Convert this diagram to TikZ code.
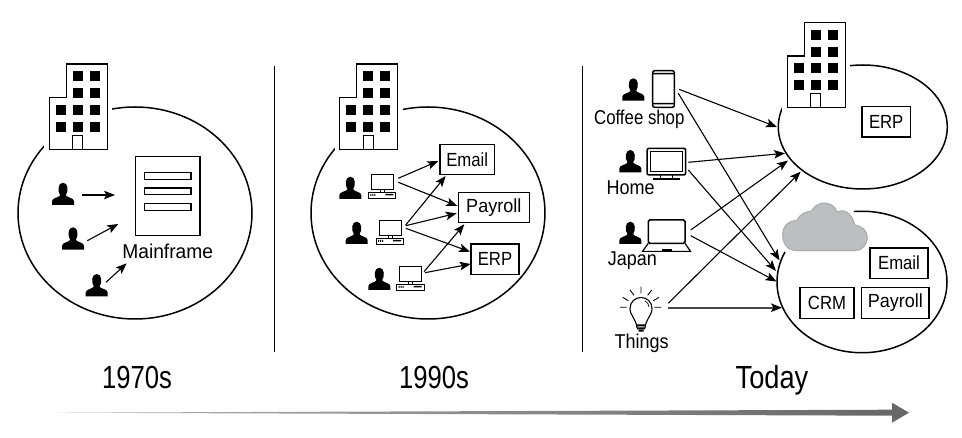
\documentclass[tikz,border=0pt]{standalone}
\usepackage{fontspec}
\setmainfont[FakeStretch=0.9]{Liberation Sans}
\newfontfamily\bigfont[FakeStretch=0.8]{Liberation Sans}
\newfontfamily\todayfont[FakeStretch=0.85]{Liberation Sans}
\newfontfamily\boxfont[FakeStretch=0.88]{Liberation Sans}
\newfontfamily\payfont[FakeStretch=0.95]{Liberation Sans}
\newfontfamily\cofffont[FakeStretch=0.84]{Liberation Sans}
\newfontfamily\mainfont[FakeStretch=0.96]{Liberation Sans}
\usetikzlibrary{arrows.meta,shapes.geometric}
\definecolor{cloudfill}{HTML}{BCBEC0}
\definecolor{cloudline}{HTML}{A7A9AC}
\definecolor{timedark}{HTML}{666666}
\tikzset{
  x=1pt,y=-1pt,
  oval/.style={draw=black,ellipse,line width=1.5pt,inner sep=0pt},
  appbox/.style={draw=black,line width=1.4pt,fill=white,inner sep=0pt,font=\boxfont\fontsize{19}{21}\selectfont},
  paybox/.style={appbox,font=\payfont\fontsize{19}{21}\selectfont},
  lab/.style={inner sep=0pt,font=\fontsize{20}{22}\selectfont},
  era/.style={inner sep=0pt,anchor=base,font=\bigfont\fontsize{32}{35}\selectfont},
  link/.style={line width=1.1pt,-{Stealth[length=11pt,width=8.5pt,inset=2.5pt]}},
  heavylink/.style={line width=1.7pt,draw=black!72,-{Stealth[length=11pt,width=8.5pt,inset=2.5pt,black]}},
  divider/.style={line width=1pt,black},
  building/.pic={
    \path[fill=white,draw=white,line width=10pt] (0,0) -- (0,-51.6) -- (17,-51.6) -- (17,-85.3) -- (58,-85.3) -- (58,0) -- cycle;
    \draw[fill=white,line width=1.5pt] (0,0) -- (0,-51.6) -- (17,-51.6) -- (17,-85.3) -- (58,-85.3) -- (58,0) -- cycle;
    \foreach \wx in {23.4,40.7}{\foreach \wy in {-78,-61}{\fill (\wx,\wy) rectangle ++(10,10);}}
    \foreach \wx in {6.7,23.4,40.7}{\foreach \wy in {-44.3,-27.6}{\fill (\wx,\wy) rectangle ++(10,10);}}
    \draw[line width=0.9pt] (23.4,0) -- (23.4,-14.3) -- (33.4,-14.3) -- (33.4,0);
  },
  person/.pic={
    \fill (0,22.3) -- (0,18.5) .. controls (0,15) and (7,15) .. (8.2,12.5) .. controls (5.5,9) and (5.5,0) .. (11,0) .. controls (16.5,0) and (16.5,9) .. (13.8,12.5) .. controls (15,15) and (22,15) .. (22,18.5) -- (22,22.3) -- cycle;
  },
  pc/.pic={
    \draw[line width=0.9pt,fill=white] (3,0) rectangle (25,15.5);
    \draw[line width=0.9pt] (12,15.5) -- (12,18) (16,15.5) -- (16,18);
    \draw[line width=0.9pt,fill=white] (0,18) rectangle (27.5,24);
    \fill (2,20) rectangle (3,22) (4,20) rectangle (5,22) (6,20) rectangle (7,22) (17,20) rectangle (25,21.5);
  }
}
\begin{document}
\begin{tikzpicture}
\useasboundingbox (0,0) rectangle (962,438);
% dividers
\coordinate (d1a) at (274,66); \coordinate (d1b) at (274,352);
\coordinate (d2a) at (582,66); \coordinate (d2b) at (582,352);
\draw[divider] (d1a) -- (d1b);
\draw[divider] (d2a) -- (d2b);
% ovals
\node[oval,minimum width=234pt,minimum height=212pt] (o1) at (135,213) {};
\node[oval,minimum width=234pt,minimum height=212pt] (o2) at (428,213) {};
\node[oval,minimum width=169pt,minimum height=124pt] (o3) at (862.8,127) {};
\node[oval,minimum width=170pt,minimum height=141.5pt] (o4) at (862,282) {};
% buildings
\pic at (49.3,149.3) {building};
\pic at (339.7,149.3) {building};
\pic at (787.3,107.7) {building};
% cloud
\path[fill=cloudfill,draw=white,line width=10pt]
  (797,250.7) .. controls (787,250.7) and (782.7,243) .. (782.7,235) .. controls (782.7,225) and (790,220) .. (797,220.5)
  .. controls (800,213) and (808,211) .. (811,211.5) .. controls (815,205) and (820,203) .. (824,203) .. controls (830,203) and (835,206) .. (837,212)
  .. controls (843,209) and (851,211) .. (855,225) .. controls (862,226) and (867.3,231) .. (867.3,237) .. controls (867.3,245) and (862,250.7) .. (855,250.7) -- cycle;
\path[fill=cloudfill,draw=cloudline,line width=1pt]
  (797,250.7) .. controls (787,250.7) and (782.7,243) .. (782.7,235) .. controls (782.7,225) and (790,220) .. (797,220.5)
  .. controls (800,213) and (808,211) .. (811,211.5) .. controls (815,205) and (820,203) .. (824,203) .. controls (830,203) and (835,206) .. (837,212)
  .. controls (843,209) and (851,211) .. (855,225) .. controls (862,226) and (867.3,231) .. (867.3,237) .. controls (867.3,245) and (862,250.7) .. (855,250.7) -- cycle;
% mainframe
\node[draw=black,line width=1.4pt,minimum width=64.7pt,minimum height=78.6pt,inner sep=0pt] (mf) at (167.7,196) {};
\foreach \by in {172.7,188,203.7}{\draw[line width=1.2pt] (144.3,\by) rectangle (191,\by+6.6);}
\node[lab,font=\mainfont\fontsize{20}{22}\selectfont] (mfl) at (167.7,251) {Mainframe};
% people era 1
\pic at (52,182.7) {person};
\pic at (62,227.3) {person};
\pic at (85.7,274) {person};
\coordinate (a1) at (82,195); \coordinate (a1e) at (115,195);
\coordinate (a2) at (87.3,240.7); \coordinate (a2e) at (118.3,224);
\coordinate (a3) at (106,282.3); \coordinate (a3e) at (126.7,263.3);
\draw[link] (a1) -- (a1e);
\draw[link] (a2) -- (a2e);
\draw[link] (a3) -- (a3e);
% era 2
\pic at (339.3,176.7) {person};
\pic at (345.7,221.7) {person};
\pic at (368.3,267.7) {person};
\pic at (368.3,174) {pc};
\pic at (376,220) {pc};
\pic at (396.7,266) {pc};
\node[appbox,minimum width=54.3pt,minimum height=30pt] (email2) at (467.2,159.3) {Email};
\node[paybox,minimum width=71pt,minimum height=30pt] (pay2) at (493.8,207.3) {Payroll};
\node[appbox,minimum width=48pt,minimum height=30.3pt] (erp2) at (495,259.2) {ERP};
\coordinate (c1a) at (398.3,178.3); \coordinate (c1b) at (398.3,182.3);
\coordinate (c2a) at (405.7,225); \coordinate (c2b) at (405.7,225.7); \coordinate (c2c) at (405.7,228.3);
\coordinate (c3a) at (424,271.7); \coordinate (c3b) at (425,272.7);
\coordinate (e1) at (438.3,161); \coordinate (e2) at (445.7,176);
\coordinate (p1) at (457.3,206); \coordinate (p2) at (456.7,213.3); \coordinate (p3) at (464.3,224.3);
\coordinate (r1) at (470,251.7); \coordinate (r2) at (470.7,264);
\draw[link] (c1a) -- (e1);
\draw[link] (c1b) -- (p1);
\draw[link] (c2a) -- (e2);
\draw[link] (c2b) -- (p2);
\draw[link] (c2c) -- (r1);
\draw[link] (c3a) -- (p3);
\draw[link] (c3b) -- (r2);
% era 3 devices
\pic at (622.3,78.3) {person};
\pic at (619.3,150) {person};
\pic at (619.3,221.7) {person};
% phone
\draw[line width=1.5pt,rounded corners=2pt] (652.7,70.7) rectangle (674.3,107.3);
\fill (652.7,73) rectangle (674.3,74.5) (652.7,103) rectangle (674.3,104.5);
% monitor
\draw[line width=1.5pt,rounded corners=2pt] (647,148.3) rectangle (685.7,175);
\draw[line width=1pt] (650.5,151.5) rectangle (682.2,171.5);
\draw[line width=1pt] (660,175) -- (660,178.5) (672.5,175) -- (672.5,178.5);
\draw[line width=1.8pt] (653,179) -- (679.5,179);
% laptop
\draw[line width=1.5pt,rounded corners=1.5pt] (648.3,220) rectangle (685,243.3);
\draw[line width=1.2pt] (648.3,243.3) -- (642.5,251.4) -- (690.5,251.4) -- (685,243.3);
\fill (662,249) rectangle (672,251.4);
% bulb
\draw[line width=1.1pt] (637,328) .. controls (636,318) and (630,316) .. (630,308.5) .. controls (630,302) and (635,297.5) .. (641,297.5) .. controls (647,297.5) and (652,302) .. (652,308.5) .. controls (652,316) and (646,318) .. (645,328);
\draw[line width=0.7pt] (645,301) .. controls (647,302) and (649,304) .. (649,307);
\fill (636.5,324.5) rectangle (645.5,326.5) (637,327.5) rectangle (645,329.5) (638.5,330) rectangle (643.5,331.7);
\draw[line width=0.9pt] (620,307.3) -- (626.7,307.3) (654.3,307.3) -- (661,307.3) (641,286.7) -- (641,293.3)
  (630,290) -- (634,295.3) (651.7,290) -- (647.7,295.3) (622.7,297.3) -- (628.3,300.7) (659,297.3) -- (653.3,300.7);
% labels
\node[lab,font=\cofffont\fontsize{20}{22}\selectfont] (l1) at (639.3,119) {Coffee shop};
\node[lab] (l2) at (630.7,188) {Home};
\node[lab] (l3) at (632.3,261) {Japan};
\node[lab] (l4) at (641.7,343) {Things};
% boxes today
\node[appbox,minimum width=48.3pt,minimum height=30.3pt] (erp3) at (886.2,121.8) {ERP};
\node[appbox,minimum width=58pt,minimum height=30.3pt] (email3) at (899,263.2) {Email};
\node[appbox,minimum width=54pt,minimum height=30.6pt] (crm3) at (827,303) {CRM};
\node[paybox,minimum width=67.3pt,minimum height=30.6pt] (pay3) at (895.4,303) {Payroll};
% connectors today
\coordinate (s1) at (679,89.3); \coordinate (s2) at (678.3,93.3);
\coordinate (s3) at (688.3,162.3); \coordinate (s4) at (688.3,170);
\coordinate (s5) at (690.7,230); \coordinate (s6) at (690.7,235.7);
\coordinate (s7) at (668.3,303.3); \coordinate (s8) at (668.3,307.7);
\coordinate (t1) at (777,127); \coordinate (t2) at (785,153.3);
\coordinate (t3) at (788,160.5); \coordinate (t4) at (800.7,171.7);
\coordinate (t5) at (779.5,260.5); \coordinate (t6) at (776,271);
\coordinate (t7) at (776.5,281.5); \coordinate (t8) at (782,307.7);
\draw[link] (s1) -- (t1);
\draw[link] (s2) -- (t5);
\draw[link] (s3) -- (t2);
\draw[link] (s4) -- (t6);
\draw[link] (s5) -- (t3);
\draw[link] (s6) -- (t7);
\draw[link] (s7) -- (t4);
\draw[heavylink] (s8) -- (t8);
% era labels
\node[era] (y1) at (137,389) {1970s};
\node[era] (y2) at (434,389) {1990s};
\node[era,font=\todayfont\fontsize{32}{35}\selectfont] (y3) at (772,389) {Today};
% timeline
\shade[left color=black!30,middle color=black!58,right color=timedark]
  (56,412.7) -- (892,409.7) -- (892,402.7) -- (909,412.7) -- (892,422.7) -- (892,415.7) -- cycle;
\end{tikzpicture}
\end{document}
